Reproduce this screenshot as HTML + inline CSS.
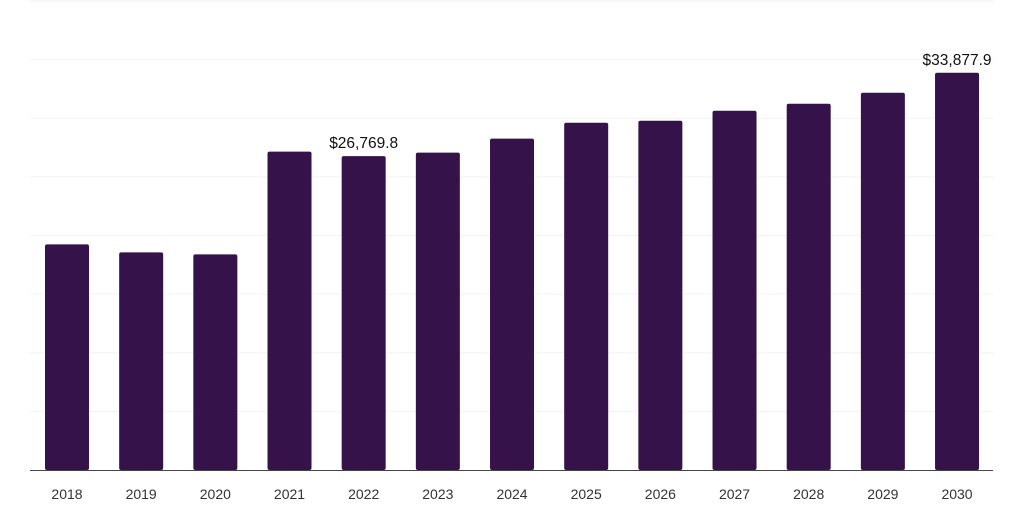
<!DOCTYPE html>
<html><head><meta charset="utf-8"><style>
body{margin:0;background:#fff;font-family:"Liberation Sans",sans-serif;}
svg text{font-family:"Liberation Sans",sans-serif;}
</style></head><body>
<svg id="chart" width="1024" height="512" xmlns="http://www.w3.org/2000/svg"></svg>
<script>
const categories=["2018","2019","2020","2021","2022","2023","2024","2025","2026","2027","2028","2029","2030"];
const values=[19240,18560,18390,27150,26769.8,27070,28260,29620,29790,30640,31240,32180,33877.9];
const labeled=["2022","2030"];
const yTicks=[0,5000,10000,15000,20000,25000,30000,35000,40000];
const svg=document.getElementById('chart');
const NS="http://www.w3.org/2000/svg";
const base=470,top0=1,yMax=40000;
const y=v=>base-(v/yMax)*(base-top0);
const x0=67,step=74.17,bw=44;
const x=i=>x0+i*step;
function mk(t,a){const e=document.createElementNS(NS,t);for(const k in a)e.setAttribute(k,a[k]);svg.appendChild(e);return e;}
yTicks.forEach(t=>{if(t===0)return;const l=mk('line',{x1:30,x2:993,y1:y(t),y2:y(t),stroke:'#f2f2f2','stroke-width':1});

});
values.forEach((v,i)=>{
const r=mk('rect',{x:x(i)-bw/2,y:y(v),width:bw,height:base-y(v),fill:'#36124a',rx:2});


const t=mk('text',{x:x(i),y:499,'text-anchor':'middle','font-size':14,fill:'#333'});t.textContent=categories[i];


if(labeled.includes(categories[i])){
const lx=Math.min(x(i),1006-35);
const vl=mk('text',{x:lx,y:y(v)-8,'text-anchor':'middle','font-size':15.5,fill:'#111'});
vl.textContent='$'+v.toLocaleString('en-US',{minimumFractionDigits:1,maximumFractionDigits:1});

}
});
const ax=mk('line',{x1:30,x2:993,y1:base+0.5,y2:base+0.5,stroke:'#444','stroke-width':1});


</script>
</body></html>
